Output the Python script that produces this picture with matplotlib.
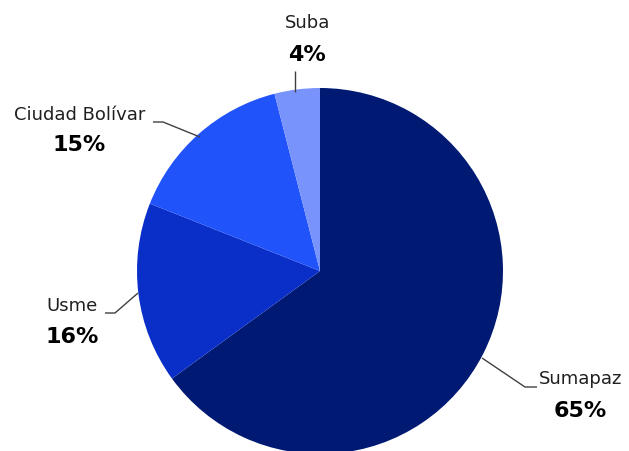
import matplotlib
matplotlib.use("Agg")
import matplotlib.pyplot as plt

categories = ["Sumapaz", "Usme", "Ciudad Bolívar", "Suba"]
values = [65, 16, 15, 4]
pct_labels = ["65%", "16%", "15%", "4%"]
colors = ["#001a73", "#0a2fc9", "#2153fb", "#7893fb"]

W, H = 629, 451
fig = plt.figure(figsize=(W / 100, H / 100), dpi=100)
ax = fig.add_axes([0, 0, 1, 1])

def Y(y):
    return H - y

ax.pie(values, colors=colors, startangle=90, counterclock=False,
       center=(320, Y(271)), radius=183, frame=True,
       wedgeprops=dict(linewidth=0))
ax.set_xlim(0, W)
ax.set_ylim(0, H)
ax.set_aspect("equal")
ax.axis("off")

# label positions (pixel coords, y down): name pos, pct pos, leader line points
label_pos = {
    "Sumapaz": ((581, 379), (580, 411), [(482, 358), (525, 387), (537, 387)]),
    "Usme": ((72, 306), (72, 337), [(138, 293), (115, 313), (105, 313)]),
    "Ciudad Bolívar": ((80, 115), (79, 145), [(200, 137), (163, 122), (153, 122)]),
    "Suba": ((308, 23), (307, 55), [(295, 92), (295, 71)]),
}

for cat, pct in zip(categories, pct_labels):
    (nx, ny), (px, py), pts = label_pos[cat]
    ax.text(nx, Y(ny), cat, ha="center", va="center", fontsize=13,
            color="#202020", family="DejaVu Sans")
    ax.text(px, Y(py), pct, ha="center", va="center", fontsize=16,
            fontweight="bold", color="black", family="DejaVu Sans")
    ax.plot([p[0] for p in pts], [Y(p[1]) for p in pts], color="#404040",
            linewidth=1.0, solid_capstyle="butt")

fig.savefig("out.png", dpi=100, facecolor="white")
